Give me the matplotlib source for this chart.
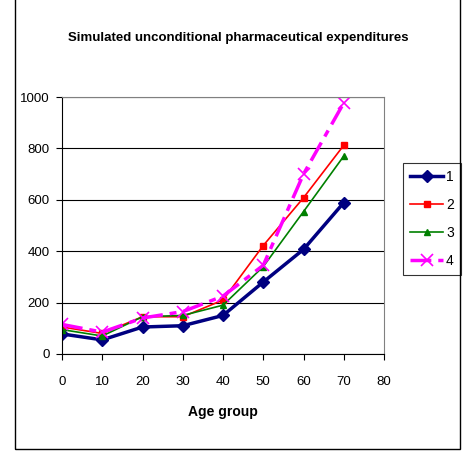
import matplotlib
matplotlib.use("Agg")
import matplotlib.pyplot as plt
from matplotlib.patches import Rectangle

# Age groups and the four simulated series
ages = [0, 10, 20, 30, 40, 50, 60, 70]
s1 = [78, 55, 105, 110, 150, 280, 407, 589]
s2 = [105, 80, 145, 145, 210, 422, 608, 812]
s3 = [95, 70, 145, 150, 190, 340, 554, 770]
s4 = [115, 85, 140, 165, 225, 345, 700, 977]
labels = ["1", "2", "3", "4"]

plt.rcParams['font.family'] = ['Liberation Sans', 'DejaVu Sans']

fig = plt.figure(figsize=(4.65, 4.51), dpi=100)
ax = fig.add_axes([62 / 465, (451 - 354) / 451, (384 - 62) / 465, (354 - 97) / 451])

ax.plot(ages, s1, color='#000080', lw=2.5, marker='D', ms=6, label=labels[0])
ax.plot(ages, s2, color='#ff0000', lw=1.2, marker='s', ms=5, label=labels[1])
ax.plot(ages, s3, color='#008000', lw=1.2, marker='^', ms=5, label=labels[2])
ax.plot(ages, s4, color='#ff00ff', lw=2.5, marker='x', ms=9, mew=1.2,
        ls=(0, (6, 2, 2, 2)), label=labels[3])

ax.set_xlim(0, 80)
ax.set_ylim(0, 1000)
ax.set_xticks(range(0, 81, 10))
ax.set_yticks(range(0, 1001, 200))
ax.yaxis.grid(True, color='black', lw=0.8)
ax.set_axisbelow(True)
for side in ['top', 'right']:
    ax.spines[side].set_color('#808080')
for side in ['left', 'bottom']:
    ax.spines[side].set_color('black')
ax.tick_params(direction='out', length=4, labelsize=9.5)
ax.tick_params(axis='x', pad=12)
ax.tick_params(axis='y', pad=5)

ax.set_xlabel('Age group', fontsize=10, fontweight='bold', labelpad=12)
fig.text(238 / 465, 1 - 38 / 451, 'Simulated unconditional pharmaceutical expenditures',
         ha='center', va='center', fontsize=9.5, fontweight='bold')

leg = ax.legend(loc='upper left', bbox_to_anchor=(403 / 465, 1 - 163 / 451),
                bbox_transform=fig.transFigure, fontsize=10, frameon=True,
                fancybox=False, edgecolor='black', handlelength=2.4,
                labelspacing=1.0, borderpad=0.5, handletextpad=0.2,
                borderaxespad=0)
leg.get_frame().set_linewidth(0.8)

fig.patches.append(Rectangle((15 / 465, 2 / 451), 445 / 465, 1.0, transform=fig.transFigure,
                             fill=False, edgecolor='black', lw=1))

fig.savefig('out.png', dpi=100)
